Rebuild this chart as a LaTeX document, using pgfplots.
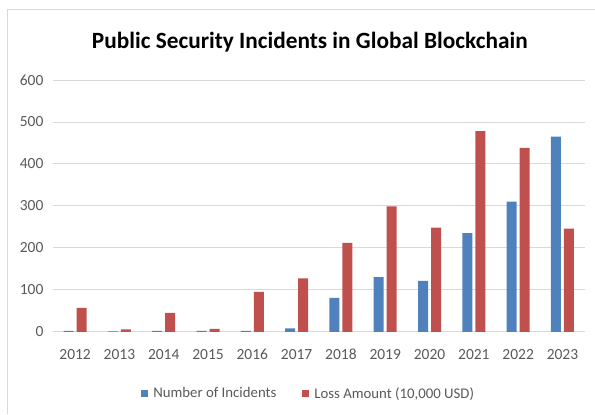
\documentclass[border=0pt]{standalone}
\usepackage{pgfplots}
\pgfplotsset{compat=1.18}
\usepackage{fontspec}
\setmainfont{Carlito}
\definecolor{cblue}{HTML}{4F81BD}
\definecolor{cred}{HTML}{C0504D}
\definecolor{tickgray}{HTML}{595959}
\definecolor{gridgray}{HTML}{D9D9D9}
\begin{document}
\begin{tikzpicture}[x=1pt,y=1pt]
\path (0,0) rectangle (595,414);
\draw[gridgray, line width=0.8pt] (7,0) -- (7,405) -- (595,405);
\node[font=\fontsize{23.3}{28}\selectfont\bfseries, text=black] at (310,372) {Public Security Incidents in Global Blockchain};
\begin{axis}[
  at={(53pt,82pt)}, anchor=south west,
  scale only axis, width=532pt, height=252pt,
  ybar=3pt, bar width=10pt,
  xmin=-0.5, xmax=11.5, ymin=0, ymax=600,
  xtick={0,...,11},
  xticklabels={2012,2013,2014,2015,2016,2017,2018,2019,2020,2021,2022,2023},
  ytick={0,100,...,600},
  axis x line*=bottom, axis y line*=left,
  x axis line style={draw=gridgray, line width=0.8pt, -},
  y axis line style={draw=none},
  major tick length=0pt,
  ymajorgrids, grid style={gridgray, line width=0.8pt},
  tick label style={font=\fontsize{15.5}{18}\selectfont, text=tickgray},
  /pgf/number format/assume math mode=true,
  yticklabel style={xshift=-6pt},
  xticklabel style={yshift=-14pt},
  legend style={at={(0.481,-0.245)}, anchor=center, draw=none, fill=none,
    font=\fontsize{14.8}{18}\selectfont, text=tickgray, legend columns=2,
    /tikz/every even column/.append style={column sep=24pt},
    /tikz/every odd column/.append style={column sep=3pt}},
  legend image code/.code={\fill[#1] (0pt,-3.5pt) rectangle (7pt,3.5pt);},
  enlargelimits=false,
]
\addplot[draw=none, fill=cblue] coordinates {(0,2) (1,1) (2,2) (3,2) (4,2) (5,8) (6,81) (7,130) (8,121) (9,235) (10,310) (11,465)};
\addplot[draw=none, fill=cred] coordinates {(0,57) (1,6) (2,45) (3,7) (4,95) (5,127) (6,212) (7,299) (8,248) (9,478) (10,438) (11,246)};
\legend{Number of Incidents, Loss Amount (10{,}000 USD)}
\end{axis}
\end{tikzpicture}
\end{document}
